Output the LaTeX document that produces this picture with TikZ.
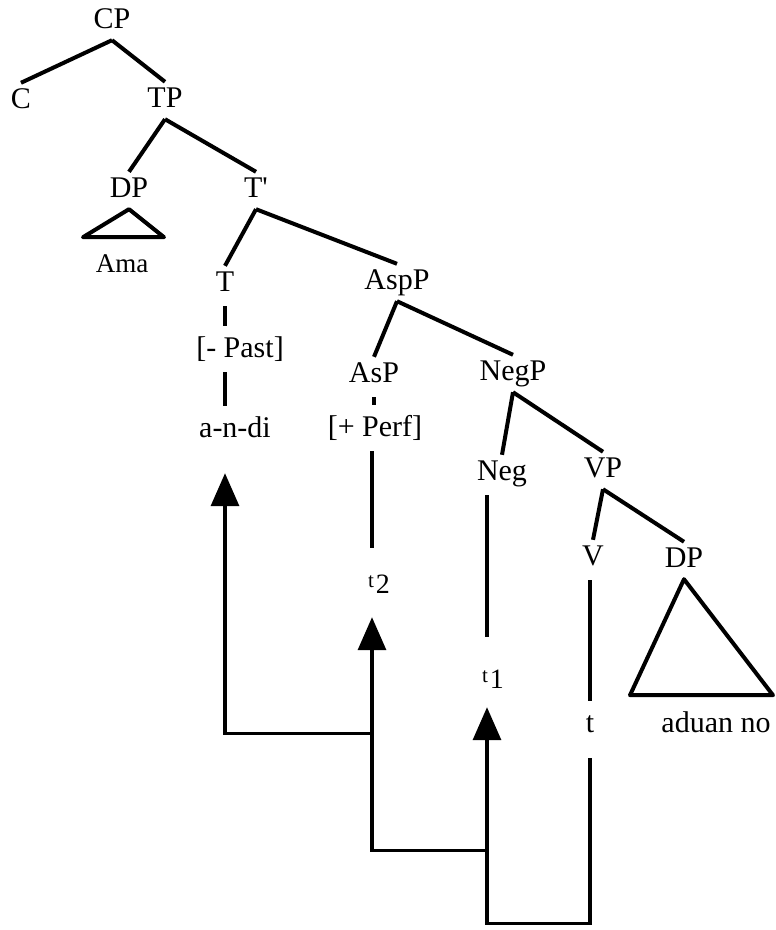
\documentclass[tikz,border=0pt]{standalone}
\usepackage{fontspec}
\setmainfont{Liberation Serif}
\usetikzlibrary{arrows.meta, calc}

\newcommand{\trc}[1]{{\fontsize{21}{21}\selectfont\raisebox{6pt}{t}}\kern2pt{\fontsize{28}{28}\selectfont #1}}

\begin{document}
\begin{tikzpicture}[x=1pt, y=-1pt,
        lbl/.style={anchor=base, font=\fontsize{30}{36}\selectfont, text height=20pt, text depth=7pt, inner xsep=2pt, inner ysep=5pt},
        edge/.style={line width=4pt, line join=round},
        stem/.style={line width=3.4pt, shorten <=3pt, shorten >=6pt},
        move/.style={line width=3.4pt, -{Triangle[width=28pt, length=33pt]}}]
        \useasboundingbox (0,0) rectangle (776,930);

        \foreach \name/\x/\y/\txt in {cp/112/28/CP, c/21/108/C, tp/165/107/TP, dpa/129/197/DP, tbar/256/197/{T\textquotesingle},
            ama/122/272/{\fontsize{27}{32}\selectfont Ama}, thd/225/291/T, aspp/397/289/AspP,
            past/240/357/{[- Past]}, andi/235/437/a-n-di, asp/374/382/AsP, perf/375/436/{[+ Perf]},
            negp/513/380/NegP, neg/502/480/Neg, vp/603/477/VP, v/593/565/V, dpb/684/567/DP,
            trv/590/732/t, aduan/716/732/aduan no, tr2/379/593/{\trc{2}}, tr1/493/688/{\trc{1}}} {
            \node (\name) at (\x, \y)[lbl] {\txt};
        }

        \foreach \a/\b in {cp/c, cp/tp, tp/dpa, tp/tbar, tbar/thd, tbar/aspp, aspp/asp, aspp/negp, negp/neg, negp/vp, vp/v, vp/dpb} {
            \draw[edge] (\a.south) -- (\b.north);
        }

        % triangles
        \draw[edge] (dpa.south) -- ++(-46,28) -- ++(81,0) -- cycle;
        \draw[edge] (dpb.south) -- ++(-54,116) -- ++(143,0) -- cycle;

        % arrow ends under the landing sites
        \coordinate (s1) at ([xshift=-6pt, yshift=-7pt]tr1.south);
        \coordinate (s2) at ([xshift=-7pt, yshift=-12pt]tr2.south);
        \coordinate (s3) at ([yshift=-24pt]andi.south);

        \draw[stem] (thd.south) -- (past.north -| thd);
        \draw[stem] (past.south -| thd) -- (andi.north -| thd);
        \draw[stem] (asp.south) -- (perf.north -| asp);
        \draw[stem, shorten >=20pt] (perf.south -| s2) -- (tr2.north -| s2);
        \draw[stem, shorten >=26pt] (neg.south -| s1) -- (tr1.north -| s1);
        \draw[stem] (v.south -| trv) -- (trv.north);

        % head movement
        \draw[move, shorten <=14pt] (trv.south) -- ++(0,179) -| (s1);
        \draw[move] ($(s1)+(0,143)$) -| (s2);
        \draw[move] ($(s2)+(0,116)$) -| (s3 -| thd);
    \end{tikzpicture}
\end{document}
